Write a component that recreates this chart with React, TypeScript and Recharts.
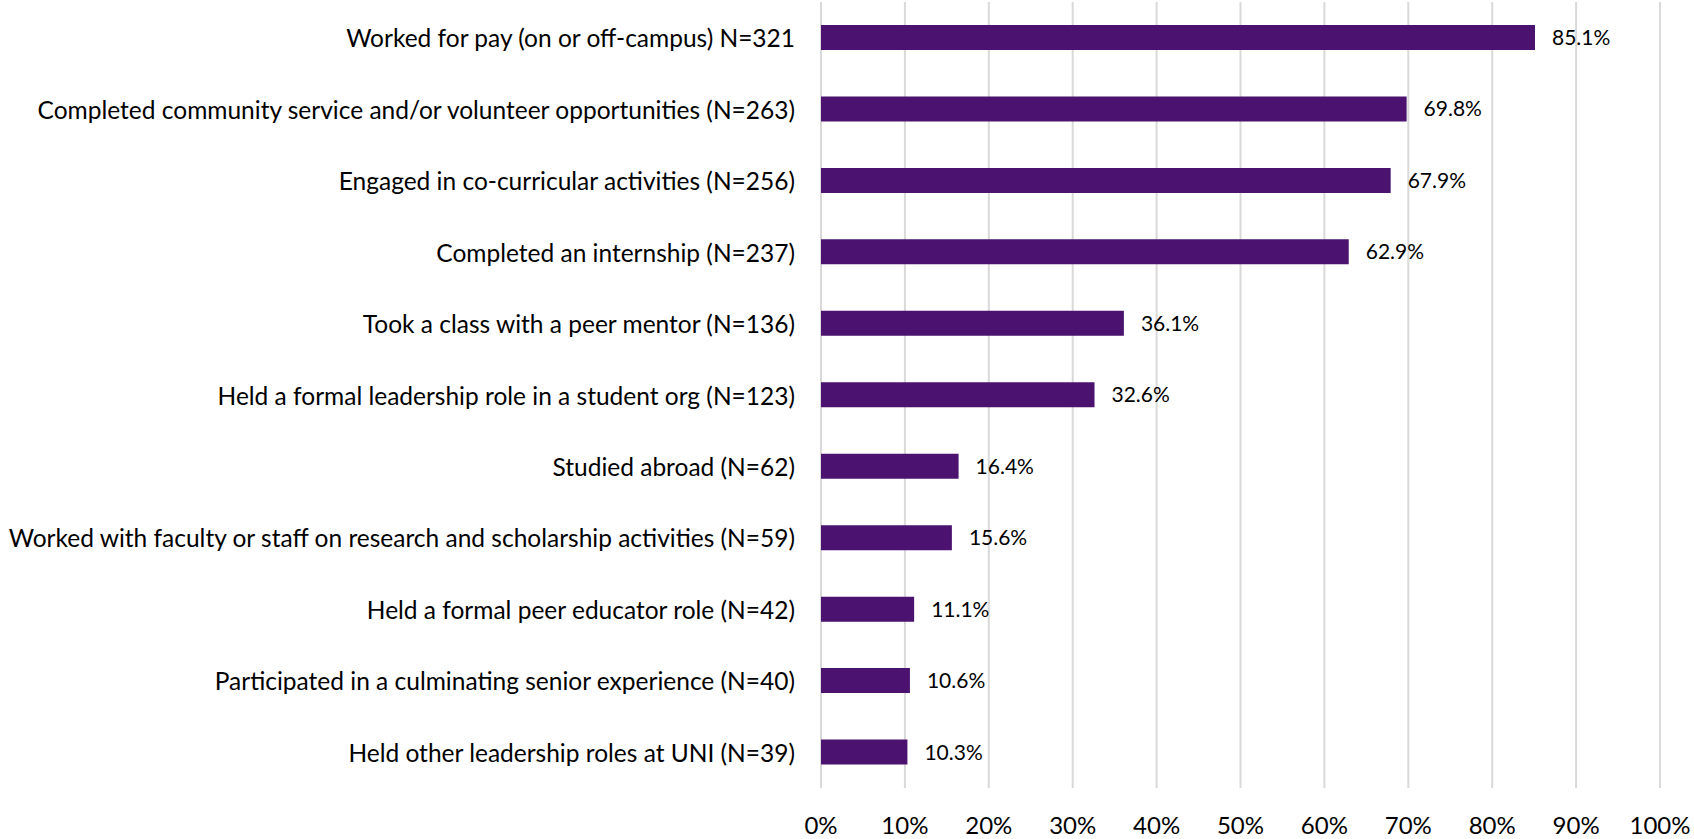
import React from "react";
import { BarChart, Bar, XAxis, YAxis, CartesianGrid, LabelList } from "recharts";

const categories = [
  "Worked for pay (on or off-campus) N=321",
  "Completed community service and/or volunteer opportunities (N=263)",
  "Engaged in co-curricular activities (N=256)",
  "Completed an internship (N=237)",
  "Took a class with a peer mentor (N=136)",
  "Held a formal leadership role in a student org (N=123)",
  "Studied abroad (N=62)",
  "Worked with faculty or staff on research and scholarship activities (N=59)",
  "Held a formal peer educator role (N=42)",
  "Participated in a culminating senior experience (N=40)",
  "Held other leadership roles at UNI (N=39)",
];

const percentages = [85.1, 69.8, 67.9, 62.9, 36.1, 32.6, 16.4, 15.6, 11.1, 10.6, 10.3];

const xTicks = [0, 10, 20, 30, 40, 50, 60, 70, 80, 90, 100];

const data = categories.map((label, i) => ({ label, value: percentages[i] }));

const FONT = "Lato, 'Open Sans', sans-serif";

const CategoryTick = (props: any) => {
  const { x, y, payload } = props;
  return (
    <text
      x={x - 26}
      y={y}
      textAnchor="end"
      dominantBaseline="central"
      fontFamily={FONT}
      fontSize={24.5}
      fill="#000"
    >
      {payload.value}
    </text>
  );
};

const PercentTick = (props: any) => {
  const { x, y, payload } = props;
  return (
    <text
      x={x}
      y={y + 46}
      textAnchor="middle"
      fontFamily={FONT}
      fontSize={24}
      fill="#000"
    >
      {`${payload.value}%`}
    </text>
  );
};

export default function App() {
  return (
    <div style={{ position: "absolute", left: 0, top: 0, background: "#fff" }}>
      <BarChart
        width={1694}
        height={839}
        data={data}
        layout="vertical"
        margin={{ top: 2, right: 34, left: 0, bottom: 0 }}
        barCategoryGap="32.5%"
      >
        <CartesianGrid horizontal={false} vertical={true} stroke="#D9D9D9" strokeWidth={2} />
        <XAxis
          type="number"
          domain={[0, 100]}
          ticks={xTicks}
          interval={0}
          axisLine={false}
          tickLine={false}
          tickSize={0}
          tickMargin={0}
          height={51}
          tick={<PercentTick />}
        />
        <YAxis
          type="category"
          dataKey="label"
          width={821}
          axisLine={false}
          tickLine={false}
          tickSize={0}
          tickMargin={0}
          interval={0}
          tick={<CategoryTick />}
        />
        <Bar dataKey="value" fill="#4B136F" barSize={25} isAnimationActive={false}>
          <LabelList
            dataKey="value"
            position="right"
            offset={17}
            formatter={(v: any) => `${v}%`}
            fontFamily={FONT}
            fontSize={21}
            fill="#000"
          />
        </Bar>
      </BarChart>
    </div>
  );
}
